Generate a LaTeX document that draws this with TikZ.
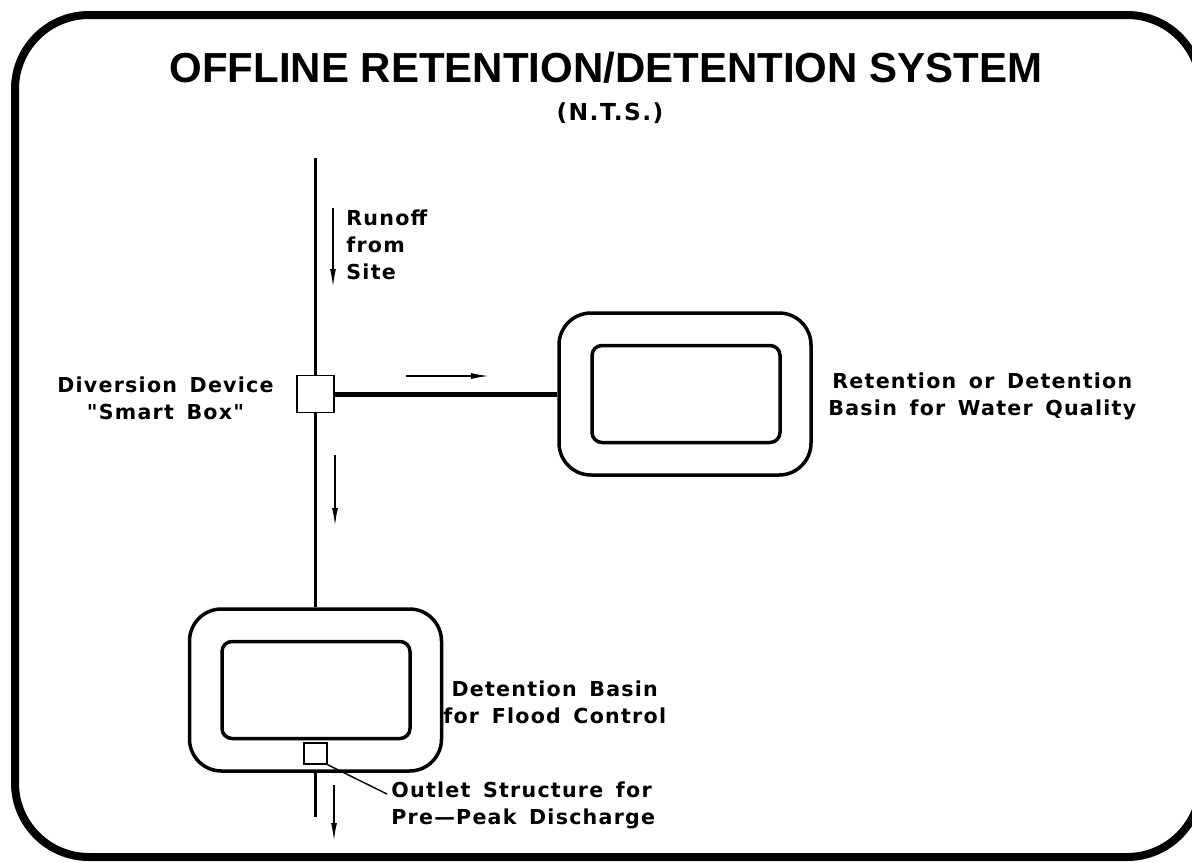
\documentclass[tikz,border=0pt]{standalone}
\usepackage{fontspec}
\usepackage{tikz}
\usetikzlibrary{arrows.meta}
\newfontfamily\titlefont{Liberation Sans Bold}
\newfontfamily\cadfont[LetterSpace=6,WordSpace=1.5]{DejaVu Sans Bold}

\begin{document}
\begin{tikzpicture}[x=0.5pt,y=-0.5pt]
  \tikzset{basin/.style = {draw,line width=1.75pt,rounded corners=16pt,minimum width=126pt,minimum height=81pt,inner sep=0pt}}
  \tikzset{pond/.style = {draw,line width=1.75pt,rounded corners=5pt,minimum width=94pt,minimum height=48.5pt,inner sep=0pt}}
  \tikzset{device/.style = {draw,fill=white,line width=0.8pt,inner sep=0pt}}
  \tikzset{pipe/.style = {line width=1.75pt}}
  \tikzset{flow/.style = {line width=0.75pt,-{Latex[length=9pt,width=3pt]}}}
  \tikzset{note/.style = {font=\cadfont\fontsize{10.3}{13.5}\selectfont,inner sep=0pt}}

  \useasboundingbox (0,0) rectangle (1192,862);
  \draw[line width=4pt,rounded corners=37pt] (15,15) rectangle (1201,857);

\node[inner sep=0pt,font=\titlefont\fontsize{21}{25}\selectfont] (title) at (606,68) {OFFLINE RETENTION/DETENTION SYSTEM};
\node[note,font=\cadfont\fontsize{11.7}{14}\selectfont] (nts) at (610,113) {(N.T.S.)};

\coordinate (site) at (315.5,158);
\node[device,minimum size=18.5pt] (smart) at (315.5,394) {};
\node[basin] (wq) at (685,394) {};
\node[pond] (wqin) at (686,394) {};
\node[basin] (flood) at (315.5,690) {};
\node[pond] (floodin) at (316,690) {};
\coordinate (out) at (315.5,817);

  % pipes
  \draw[pipe] (site) -- (smart.north);
  \draw[pipe] (smart.south) -- (flood.north);
  \draw[pipe,line width=2.5pt] (smart.east) -- (wq.west);
  \draw[pipe] (flood.south) -- (out);
\node[device,minimum width=11.5pt,minimum height=10.5pt] (outlet) at (315.5,753.5) {};

  % flow arrows
\coordinate (a1) at (333,208); \coordinate (b1) at (333,287);
\coordinate (a2) at (406,376); \coordinate (b2) at (489,376);
\coordinate (a3) at (335,455); \coordinate (b3) at (335,526);
\coordinate (a4) at (334,785); \coordinate (b4) at (334,841);
  \draw[flow] (a1) -- (b1);
  \draw[flow] (a2) -- (b2);
  \draw[flow] (a3) -- (b3);
  \draw[flow] (a4) -- (b4);

\node[note,align=left,anchor=west] (runoff) at (346,245) {Runoff\\from\\Site};
\node[note,align=center,anchor=west] (wqtext) at (828,396) {Retention or Detention\\Basin for Water Quality};
\node[note,align=center,anchor=east] (divtext) at (274,398) {Diversion Device\\"Smart Box"};
\node[note,align=center,anchor=west] (floodtext) at (443,702) {Detention Basin\\for Flood Control};
\node[note,align=left,anchor=west] (outtext) at (391,805) {Outlet Structure for\\Pre—Peak Discharge};

\coordinate (lead) at (387,794);
  \draw[line width=0.7pt] (outlet.south east) -- (lead);

\end{tikzpicture}
\end{document}
